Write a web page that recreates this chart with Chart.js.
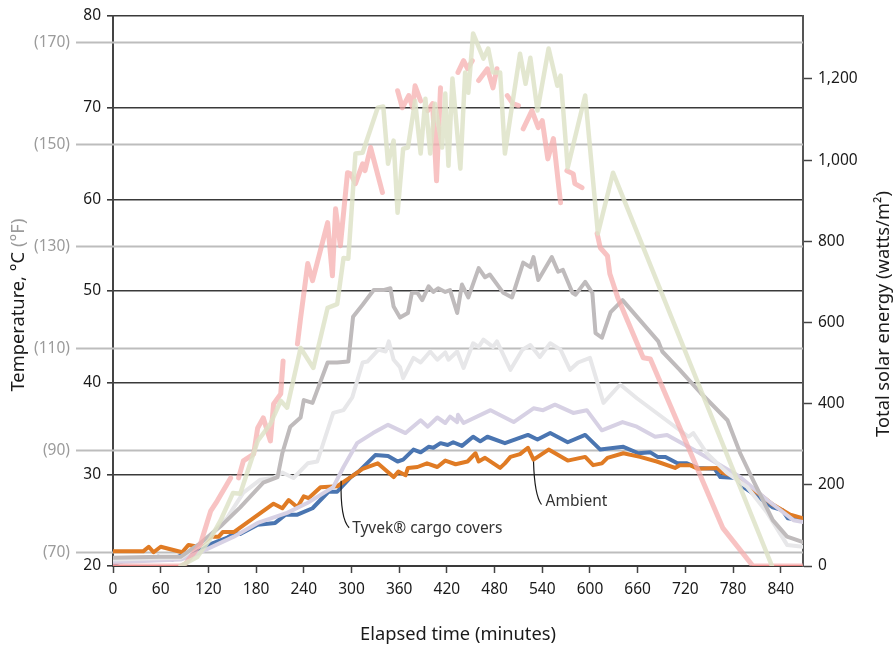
<!DOCTYPE html>
<html><head><meta charset="utf-8">
<script src="https://cdn.jsdelivr.net/npm/chart.js@4.4.0/dist/chart.umd.min.js"></script>
<style>html,body{margin:0;padding:0;background:#fff}#wrap{width:894px;height:646px}</style>
</head><body><div id="wrap"><canvas id="c" width="894" height="646"></canvas></div>
<script>
// ---- tick labels ----
const xTicks = [0,60,120,180,240,300,360,420,480,540,600,660,720,780,840];
const cTicks = [20,30,40,50,60,70,80];
const fTicks = [70,90,110,130,150,170];
const wTicks = [0,200,400,600,800,1000,1200];

// ---- solar energy series (right axis, watts/m2) ----
const greenTime = [85,106,123,135,151,160,182,198,211,219,236,252,270,282,290,296,305,314,333,340,346,353,358,365,371,380,387,393,399,405,414,418,422,427,437,443,447,453,466,472,478,487,493,502,512,519,525,534,548,559,563,572,594,610,629,829];
const greenW    = [0,22,69,111,180,178,308,350,407,390,537,488,636,645,759,757,1016,1018,1129,1132,991,1048,870,1028,1031,1146,1016,1151,1016,1139,1031,1164,986,1201,979,1216,1166,1312,1250,1275,1216,1216,1016,1134,1262,1188,1252,1122,1275,1183,1208,981,1159,819,969,0];

const pinkTime = [0,85,91,110,123,131,148,153,158,164,177,182,189,198,202,211,214,223,232,236,245,251,270,276,280,286,295,299,305,314,317,324,339,349,358,364,372,377,380,387,391,396,402,407,412,423,434,441,446,452,456,460,471,478,483,490,496,503,510,513,516,527,535,540,547,554,563,567,571,579,581,590,600,609,613,622,625,635,667,676,767,805,868];
const pinkW    = [0,0,5,54,136,160,217,null,217,259,276,340,365,308,399,424,505,null,547,611,745,703,846,715,880,789,969,966,942,991,974,1031,920,null,1171,1129,1159,1129,1183,1146,null,1122,1139,949,1178,null,1216,1245,1225,1245,null,1196,1225,1178,1225,null,1159,1139,1134,null,1077,1122,1080,1097,1003,1053,895,null,974,966,942,932,null,819,784,764,720,661,513,510,94,0,0];

const redTime = [0,85,86,805,868];
const redW    = [0,0,null,0,0];

// ---- temperature series (left axis, deg C) ----
const darkTime = [0,60,85,110,135,160,189,207,213,223,236,240,251,270,282,296,302,314,328,340,349,353,361,371,376,383,389,397,403,409,418,424,433,439,447,460,468,474,491,502,516,525,529,535,552,560,566,578,582,594,603,607,615,626,641,686,691,713,739,773,789,805,830,848,868];
const darkTemp = [20.9,21.0,21.0,22.5,24.3,26.4,29.1,29.7,32.3,35.2,36.2,38.1,37.8,42.2,42.2,42.3,47.2,48.5,50.1,50.1,50.3,48.3,47.1,47.6,49.8,49.8,49.0,50.5,49.9,50.3,49.9,50.1,47.6,50.7,49.3,52.5,51.5,51.8,49.8,49.3,53.1,52.6,53.7,51.2,53.7,52.1,52.3,49.8,49.6,51.0,49.8,45.4,44.9,47.7,49.0,44.5,43.4,41.4,38.9,35.9,32.3,29.4,25.0,23.2,22.6];

const lightTime = [0,85,110,144,164,185,202,213,227,245,257,277,290,301,314,320,334,343,347,353,361,365,378,387,399,408,418,422,433,441,453,460,466,478,483,500,515,525,537,550,563,575,585,600,617,638,659,724,730,747,772,798,823,848,868];
const lightTemp = [20.7,20.9,22.3,25.3,28.0,29.4,29.6,30.2,29.6,31.2,31.4,36.7,37.0,38.4,42.2,42.3,43.6,43.4,44.5,42.5,41.7,40.5,42.7,42.2,43.4,42.5,43.3,42.5,43.4,41.6,44.3,43.9,44.7,43.9,44.5,41.4,43.6,44.1,42.8,44.3,43.6,41.4,42.2,42.7,37.8,39.8,38.3,34.1,34.5,32.3,30.2,28.6,25.8,22.3,22.1];

const lavTime = [0,85,110,152,182,219,245,277,290,307,327,346,368,387,396,408,418,424,433,434,441,475,504,529,541,556,579,596,615,641,659,682,697,730,764,789,823,856,868];
const lavTemp = [20.4,20.7,21.5,23.2,24.7,25.8,26.9,28.6,30.8,33.4,34.5,35.4,34.5,35.9,35.2,36.2,35.6,36.3,35.7,36.5,35.6,37.0,35.7,37.2,37.0,37.6,36.7,37.0,34.8,35.7,35.2,34.1,34.3,32.7,31.0,29.7,27.2,25.0,24.8];

const tyvekTime = [0,18,38,57,75,91,110,126,144,154,160,182,204,217,232,251,271,282,299,309,330,346,358,365,378,387,397,403,412,421,428,439,453,462,471,493,522,534,550,572,594,613,642,661,676,685,695,710,722,735,757,764,785,793,814,830,842,849,868];
const tyvekTemp = [20.2,20.7,20.7,21.0,20.7,21.4,21.7,22.5,23.1,23.6,23.5,24.5,24.7,25.6,25.6,26.3,28.1,28.1,29.7,30.3,32.1,32.0,31.4,31.6,32.7,32.4,33.0,32.9,33.4,33.2,33.5,33.1,34.1,33.6,34.1,33.4,34.3,33.8,34.5,33.5,34.3,32.7,33.0,32.3,32.4,31.9,31.9,31.2,31.2,30.7,30.6,29.7,29.6,28.6,27.4,26.4,26.1,25.2,25.0];

const ambTime = [0,38,45,51,60,87,95,107,123,133,138,152,202,213,221,232,240,246,261,282,299,314,333,353,359,368,371,383,395,408,418,431,446,456,460,468,487,493,500,512,522,529,548,572,594,604,615,622,642,663,684,707,713,726,736,760,766,785,793,814,830,852,868];
const ambTemp = [21.6,21.6,22.1,21.5,22.1,21.5,22.3,22.1,23.2,23.2,23.7,23.7,26.8,26.3,27.2,26.4,27.6,27.4,28.6,28.7,29.7,30.6,31.2,29.7,30.3,29.9,30.7,30.8,31.2,30.8,31.5,31.1,31.4,32.3,31.4,31.8,30.7,31.2,31.9,32.2,32.9,31.6,32.7,31.5,31.9,31.0,31.2,31.8,32.3,31.9,31.4,30.7,31.0,31.0,30.6,30.7,30.2,29.7,29.1,27.8,26.7,25.6,25.2];

const FONT = '"Noto Sans", "Open Sans", sans-serif';
const TICK = 15.5, TITLE = 18.3;
const zip = (t, v) => t.map((x, i) => ({x: x, y: v[i]}));
const fOffsetC = 0.45;

function ds(label, t, v, color, width, axis) {
  return {label, data: zip(t, v), borderColor: color, borderWidth: width, yAxisID: axis,
          pointRadius: 0, fill: false, tension: 0, spanGaps: false,
          borderJoinStyle: 'round', borderCapStyle: 'round'};
}

const decor = {
  id: 'decor',
  beforeDatasetsDraw(chart) {
    const {ctx, chartArea: a, scales} = chart;
    const y = scales.y;
    ctx.save();
    ctx.strokeStyle = '#bdbdbd'; ctx.lineWidth = 1.8;
    ctx.font = TICK + 'px ' + FONT; ctx.fillStyle = '#9b9b9b';
    ctx.textAlign = 'right'; ctx.textBaseline = 'middle';
    fTicks.forEach(f => {
      const py = Math.round(y.getPixelForValue((f - 32) * 5 / 9 + fOffsetC)) + 0.5;
      ctx.beginPath(); ctx.moveTo(76, py); ctx.lineTo(a.right, py); ctx.stroke();
      ctx.fillText('(' + f + ')', 70, py);
    });
    ctx.restore();
  },
  afterDraw(chart) {
    const {ctx, chartArea: a, scales} = chart;
    const x = scales.x, y = scales.y;
    ctx.save();
    // left title
    ctx.font = TITLE + 'px ' + FONT; ctx.textBaseline = 'middle';
    const p1 = 'Temperature, \u00B0C ', p2 = '(\u00B0F)';
    const w1 = ctx.measureText(p1).width, w2 = ctx.measureText(p2).width;
    ctx.save();
    ctx.translate(19, 305);
    ctx.rotate(-Math.PI / 2);
    ctx.textAlign = 'left';
    ctx.fillStyle = '#1a1a1a'; ctx.fillText(p1, -(w1 + w2) / 2, 0);
    ctx.fillStyle = '#9b9b9b'; ctx.fillText(p2, -(w1 + w2) / 2 + w1, 0);
    ctx.restore();
    // right title
    ctx.save();
    ctx.translate(884, 314);
    ctx.rotate(-Math.PI / 2);
    ctx.textAlign = 'center'; ctx.fillStyle = '#1a1a1a';
    ctx.fillText('Total solar energy (watts/m\u00B2)', 0, 0);
    ctx.restore();
    // annotations
    ctx.strokeStyle = '#1a1a1a'; ctx.lineWidth = 1.2; ctx.fillStyle = '#333';
    ctx.font = TICK + 'px ' + FONT; ctx.textAlign = 'left'; ctx.textBaseline = 'middle';
    let ax = x.getPixelForValue(287), ay = y.getPixelForValue(29.3);
    ctx.beginPath(); ctx.moveTo(ax, ay); ctx.quadraticCurveTo(ax - 1, ay + 38, ax + 8, ay + 47); ctx.stroke();
    ctx.fillText('Tyvek\u00AE cargo covers', ax + 11, ay + 48);
    ax = x.getPixelForValue(529); ay = y.getPixelForValue(31.4);
    ctx.beginPath(); ctx.moveTo(ax, ay); ctx.quadraticCurveTo(ax + 1, ay + 34, ax + 8, ay + 43); ctx.stroke();
    ctx.fillText('Ambient', ax + 12, ay + 40);
    ctx.restore();
  }
};

new Chart(document.getElementById('c'), {
  type: 'line',
  data: {
    datasets: [
      ds('Solar 2', greenTime, greenW, 'rgba(222,227,200,0.85)', 4.5, 'y2'),
      ds('Solar', pinkTime, pinkW, 'rgba(245,172,172,0.72)', 5, 'y2'),
      ds('Solar zero', redTime, redW, '#d8322c', 2, 'y2'),
      ds('Cover A', darkTime, darkTemp, '#bfbbbc', 4, 'y'),
      ds('Cover B', lightTime, lightTemp, '#e7e7e9', 4, 'y'),
      ds('Cover C', lavTime, lavTemp, '#d7d1e4', 4, 'y'),
      ds('Ambient', ambTime, ambTemp, '#e07b24', 4, 'y'),
      ds('Tyvek cargo covers', tyvekTime, tyvekTemp, '#4a75b1', 4, 'y')
    ]
  },
  options: {
    responsive: false, animation: false, devicePixelRatio: 1,
    layout: {padding: {top: 16, left: 0, right: 0, bottom: 0}},
    plugins: {legend: {display: false}, tooltip: {enabled: false}},
    scales: {
      x: {
        type: 'linear', min: 0, max: 868,
        afterBuildTicks: s => { s.ticks = xTicks.map(v => ({value: v})); },
        afterFit: s => { s.height = 80; },
        grid: {drawOnChartArea: false, drawTicks: true, tickLength: 7, tickColor: '#444', tickWidth: 1.5},
        border: {display: true, color: '#3a3a3a', width: 2},
        ticks: {font: {family: FONT, size: TICK}, color: '#1a1a1a', padding: 7, maxRotation: 0, autoSkip: false},
        title: {display: true, text: 'Elapsed time (minutes)', font: {family: FONT, size: TITLE}, color: '#1a1a1a', padding: {top: 0, bottom: 0}}
      },
      y: {
        position: 'left', min: 20, max: 80,
        afterBuildTicks: s => { s.ticks = cTicks.map(v => ({value: v})); },
        afterFit: s => { s.width = 113; },
        grid: {color: '#3a3a3a', lineWidth: 1.6, tickLength: 6, tickColor: '#3a3a3a'},
        border: {display: true, color: '#444', width: 2},
        ticks: {font: {family: FONT, size: TICK}, color: '#1a1a1a', padding: 6}
      },
      y2: {
        position: 'right', min: 0, max: 1355,
        afterBuildTicks: s => { s.ticks = wTicks.map(v => ({value: v})); },
        afterFit: s => { s.width = 91; },
        grid: {drawOnChartArea: false, tickLength: 9, tickColor: '#444', tickWidth: 1.5},
        border: {display: true, color: '#555', width: 2},
        ticks: {font: {family: FONT, size: TICK}, color: '#1a1a1a', padding: 6,
                callback: v => v.toLocaleString('en-US')}
      }
    }
  },
  plugins: [decor]
});
</script></body></html>
